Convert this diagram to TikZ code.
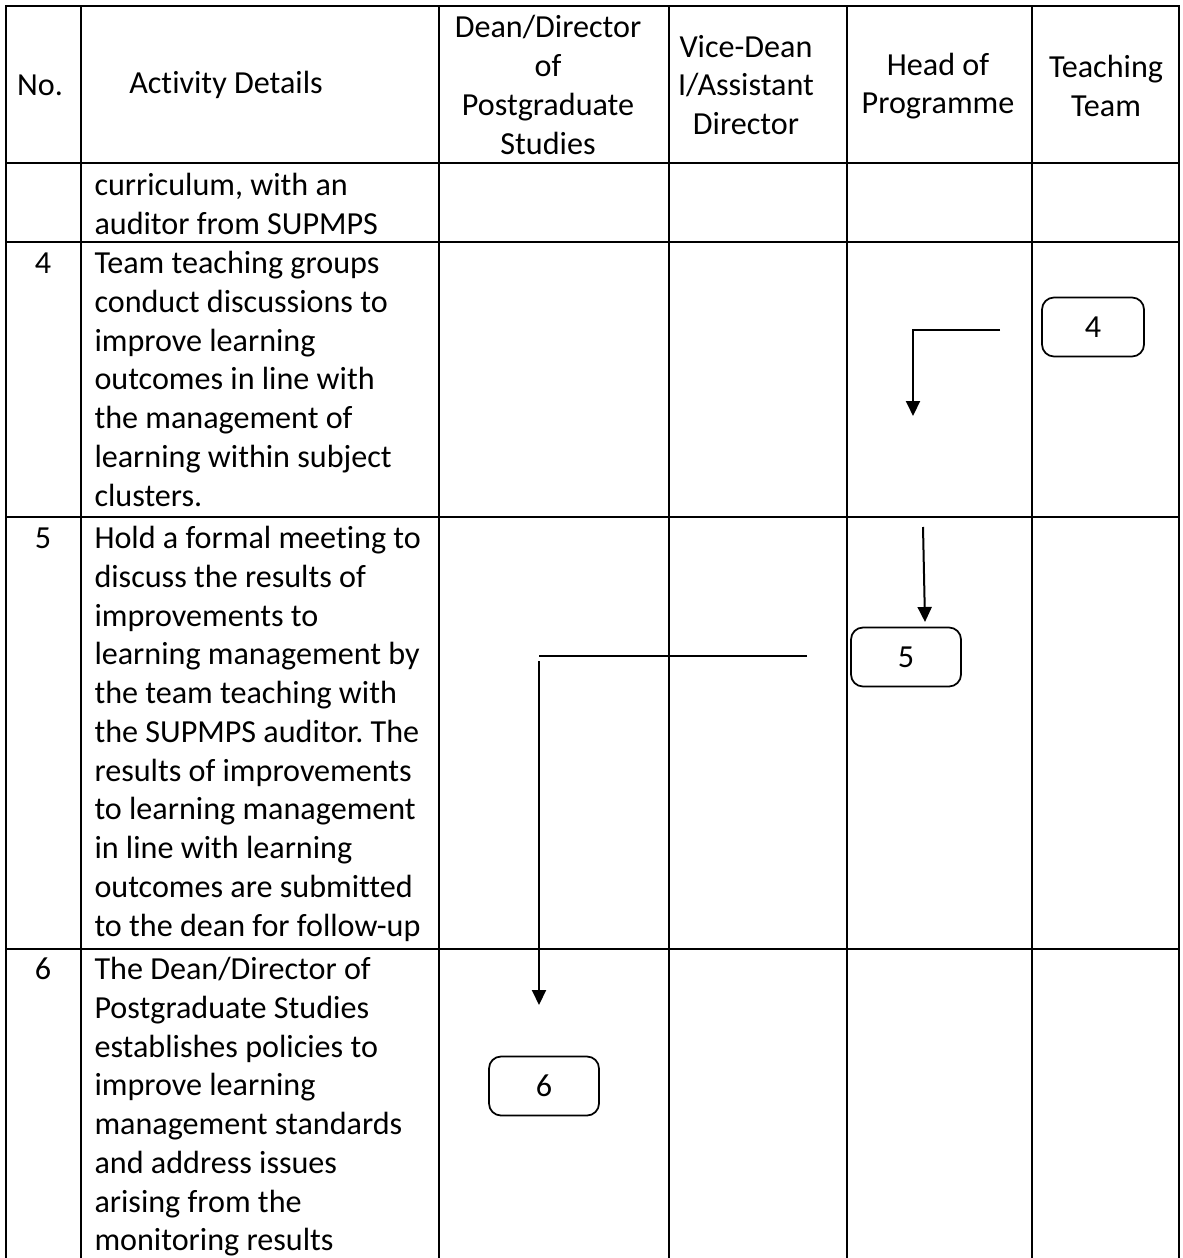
\documentclass[tikz,border=0pt]{standalone}
\usepackage{fontspec}
\setmainfont{Carlito}[Ligatures=NoCommon]
\usetikzlibrary{arrows.meta,positioning}

\newcommand{\cellfont}{\fontsize{12.85}{15.5}\selectfont}
\frenchspacing

\begin{document}
\begin{tikzpicture}[
    x=0.4pt, y=-0.4pt,
    grid/.style={line width=1.1pt, draw=black, line cap=rect},
    head/.style={align=center, font=\cellfont, inner sep=0pt},
    cell/.style={align=left, anchor=north west, font=\cellfont, inner sep=0pt},
    num/.style={anchor=base, font=\cellfont, inner sep=0pt},
    stepbox/.style={draw, rounded corners=4.8pt, line width=0.7pt, minimum width=44pt, minimum height=23.6pt, font=\cellfont, inner sep=0pt},
    flow/.style={-{Triangle[length=6pt, width=5.6pt]}, line width=0.8pt},
    link/.style={line width=0.8pt},
]
\useasboundingbox (0,0) rectangle (1182,1258);

% Grid
\foreach \x in {6,81,439,669,847,1032,1179}
  \draw[grid] (\x,6) -- (\x,1258);
\foreach \y in {6,163,242,517,949}
  \draw[grid] (6,\y) -- (1179,\y);

% Header
\node[head] (hno) at (40,85) {No.};
\node[head] (hact) at (226,85) {Activity Details};
\node[head] (hdean) at (548,85) {Dean/Director\\of\\Postgraduate\\Studies};
\node[head] (hvice) at (746,85) {Vice-Dean\\I/Assistant\\Director};
\node[head] (hhop) at (938,86) {Head of\\Programme};
\node[head] (hteam) at (1106,86) {Teaching\\Team};

% Numbers
\node[num] (n4) at (43,273) {4};
\node[num] (n5) at (43,548) {5};
\node[num] (n6) at (43,979) {6};

% Activities
\node[cell] (a3) at (94,168) {\strut curriculum, with an\\auditor from SUPMPS};
\node[cell] (a4) at (94,246) {\strut Team teaching groups\\conduct discussions to\\improve learning\\outcomes in line with\\the management of\\learning within subject\\clusters.};
\node[cell] (a5) at (94,521) {\strut Hold a formal meeting to\\discuss the results of\\improvements to\\learning management by\\the team teaching with\\the SUPMPS auditor. The\\results of improvements\\to learning management\\in line with learning\\outcomes are submitted\\to the dean for follow-up};
\node[cell] (a6) at (94,952) {\strut The Dean/Director of\\Postgraduate Studies\\establishes policies to\\improve learning\\management standards\\and address issues\\arising from the\\monitoring results};

% Steps
\node[stepbox, minimum width=40.8pt] (s4) at (1093,327) {4};
\node[stepbox] (s5) at (906,657) {5};
\node[stepbox] (s6) at (544,1086) {6};

% Connectors
\coordinate (c4a) at (1000,330);
\coordinate (c4b) at (913,416);
\draw[flow] (c4a) -| (c4b);

\coordinate (c5a) at (923,527);
\coordinate (c5b) at (925,622);
\draw[flow] (c5a) -- (c5b);

\coordinate (c5c) at (807,656);
\coordinate (c5d) at (539,656);
\draw[link] (c5c) -- (c5d);

\coordinate (c6a) at (539,661);
\coordinate (c6b) at (539,1005);
\draw[flow] (c6a) -- (c6b);

\end{tikzpicture}
\end{document}
